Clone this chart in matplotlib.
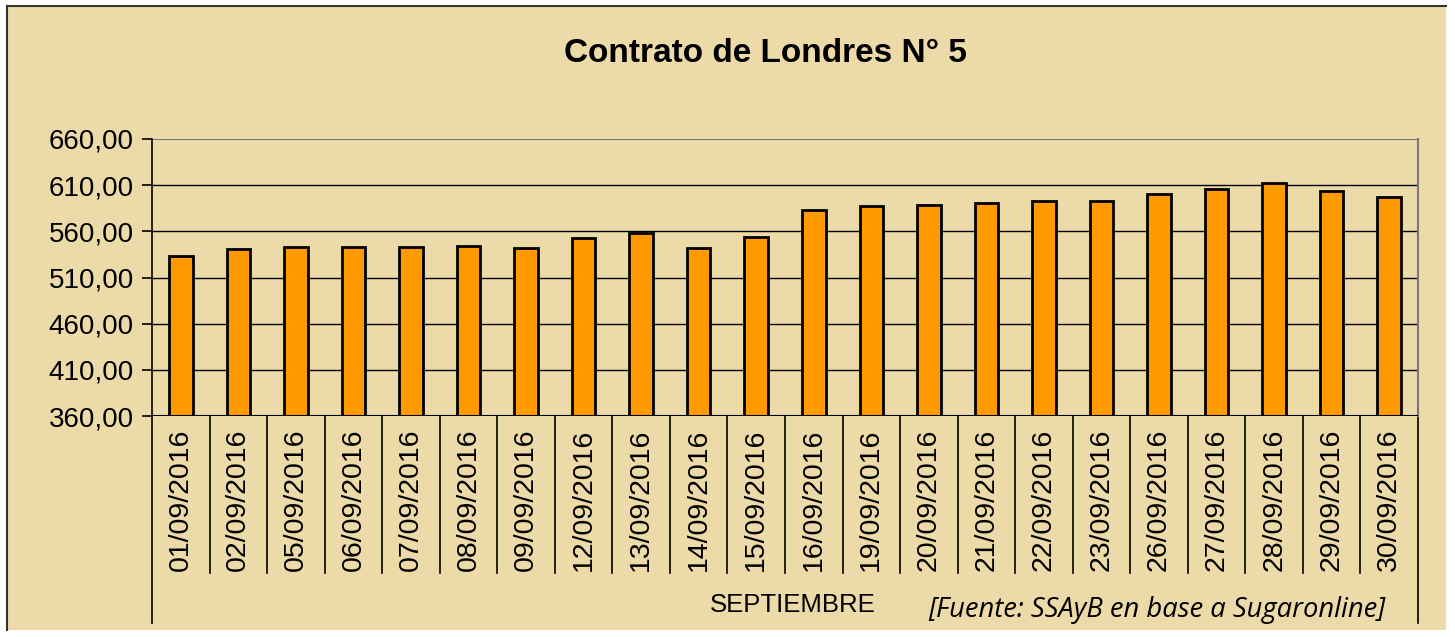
import numpy as np
import matplotlib.pyplot as plt
from matplotlib.patches import Rectangle
from matplotlib.lines import Line2D
import matplotlib.transforms as mtransforms

fechas = ["01/09/2016", "02/09/2016", "05/09/2016", "06/09/2016", "07/09/2016",
          "08/09/2016", "09/09/2016", "12/09/2016", "13/09/2016", "14/09/2016",
          "15/09/2016", "16/09/2016", "19/09/2016", "20/09/2016", "21/09/2016",
          "22/09/2016", "23/09/2016", "26/09/2016", "27/09/2016", "28/09/2016",
          "29/09/2016", "30/09/2016"]
precios = [533.3, 540.9, 542.7, 542.7, 542.7, 544.1, 542.3, 552.8, 557.9, 542.3,
           554.2, 583.1, 587.1, 588.9, 591.1, 592.5, 592.5, 600.1, 605.5, 612.4,
           603.4, 597.3]
yticks = [360, 410, 460, 510, 560, 610, 660]
mes = "SEPTIEMBRE"
titulo = "Contrato de Londres N° 5"
fuente = "[Fuente: SSAyB en base a Sugaronline]"

bg = "#ECDAA8"
plt.rcParams["font.family"] = ["Liberation Sans", "DejaVu Sans"]

fig = plt.figure(figsize=(14.55, 6.37), dpi=100)
fig.patch.set_facecolor("white")

# papyrus-coloured panel with dark top/left edge
panel = Rectangle((7 / 1455, 1 - 630 / 637), 1439 / 1455, 624 / 637,
                  transform=fig.transFigure, facecolor=bg, edgecolor="none", zorder=-10)
fig.patches.append(panel)
fig.add_artist(Line2D([7 / 1455, 7 / 1455], [1 - 630 / 637, 1 - 6 / 637],
                      transform=fig.transFigure, color="#333333", lw=1.5))
fig.add_artist(Line2D([7 / 1455, 1446 / 1455], [1 - 6 / 637, 1 - 6 / 637],
                      transform=fig.transFigure, color="#333333", lw=1.5))

ax = fig.add_axes([152 / 1455, 1 - 416 / 637, (1418 - 152) / 1455, (416 - 139) / 637])
ax.set_facecolor("none")

x = np.arange(len(fechas))
ax.bar(x, precios, width=0.41, bottom=0, color="#FF9900", edgecolor="black",
       linewidth=2.0, zorder=3)

ax.set_ylim(360, 660)
ax.set_xlim(-0.5, len(fechas) - 0.5)
ax.set_yticks(yticks)
ax.set_yticklabels([f"{v:.2f}".replace(".", ",") for v in yticks], fontsize=20)
for v in yticks[1:-1]:
    ax.axhline(v, color="black", lw=1.0, zorder=1)
ax.axhline(660, color="#777777", lw=1.5, zorder=1)

for s in ["top", "bottom"]:
    ax.spines[s].set_visible(False)
ax.spines["right"].set_color("#777777")
ax.spines["right"].set_linewidth(1.5)
ax.spines["left"].set_color("black")
ax.spines["left"].set_linewidth(1.2)
ax.tick_params(axis="y", length=7, width=1.2, pad=6, direction="out")
ax.tick_params(axis="x", length=0, pad=9)
ax.set_xticks(x)
ax.set_xticklabels(fechas, rotation=90, fontsize=20.5, va="top")
ax.axhline(360, color="black", lw=1.5, zorder=4)

# category separators below the axis
trans = mtransforms.blended_transform_factory(ax.transData, ax.transAxes)
h = 416 - 139
sep_low = -(573 - 416) / h
outer_low = -(623 - 416) / h
for b in np.arange(0.5, len(fechas) - 1, 1.0):
    ax.add_line(Line2D([b, b], [0, sep_low], transform=trans, color="black",
                       lw=1.2, clip_on=False))
for b in [-0.5, len(fechas) - 0.5]:
    ax.add_line(Line2D([b, b], [0, outer_low], transform=trans, color="black",
                       lw=1.2, clip_on=False))

fig.text(765 / 1455, 1 - 54 / 637, titulo, ha="center", va="center",
         fontsize=24, fontweight="bold")
fig.text(793 / 1455, 1 - 605 / 637, mes, ha="center", va="center", fontsize=18.5)
fig.text(1157 / 1455, 1 - 610 / 637, fuente, ha="center", va="center",
         fontsize=19.7, style="italic", family=["Open Sans", "DejaVu Sans"])

fig.savefig("out.png", dpi=100)
